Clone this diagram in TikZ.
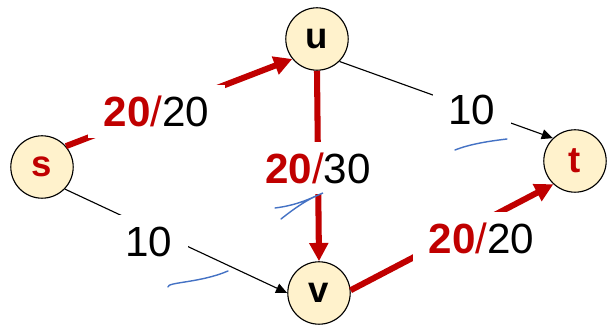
\documentclass[tikz,border=0pt]{standalone}
\usepackage{fontspec}
\setmainfont{Liberation Sans}
\usepackage{xcolor}
\usepackage{tikz}
\usetikzlibrary{arrows.meta, positioning}

\definecolor{flowred}{HTML}{C00000}
\definecolor{nodefill}{HTML}{FFF2CC}
\definecolor{penblue}{HTML}{4472C4}

\newcommand{\flowlbl}[2]{{\color{flowred}\bfseries #1}{\color{flowred}/}#2}

\begin{document}
\begin{tikzpicture}[
    x=0.025cm, y=-0.025cm,
    vertex/.style={circle, draw=black, line width=0.8pt, fill=nodefill, minimum size=1.56cm, inner sep=0pt, font=\fontsize{26}{30}\selectfont\bfseries},
    flow/.style={draw=flowred, line width=4.3pt, -{Triangle[length=13pt, width=13pt]}},
    capedge/.style={draw=black, line width=0.8pt, -{Triangle[length=8pt, width=7pt]}},
    lbl/.style={fill=white, font=\fontsize{30}{36}\selectfont, text height=21.5pt, text depth=0pt, inner xsep=11pt, inner ysep=8pt},
    pen/.style={draw=penblue, line width=1pt, line cap=round}
]
\useasboundingbox (0,0) rectangle (608,326);

% Nodes
\node[vertex, text=flowred] (s) at (42,167) {s};
\node[vertex] (u) at (317,39) {u};
\node[vertex] (v) at (319,293) {v};
\node[vertex, text=flowred] (t) at (575,161) {t};

% Arrows
\draw[flow] (s.41) -- node[lbl, pos=0.40] {\flowlbl{20}{20}} (u.219);
\draw[flow] (u.south) -- node[lbl, pos=0.51] {\flowlbl{20}{30}} (v.north);
\draw[flow] (v.5) -- node[lbl, pos=0.645, yshift=-0.41cm] {\flowlbl{20}{20}} (t.227);
\draw[capedge] (u.315) -- node[lbl, pos=0.62] {10} (t.134);
\draw[capedge] (s.316) -- node[lbl, pos=0.377, yshift=-0.33cm] {10} (v.west);

% pen marks
\draw[pen] (168,287) .. controls (167,282) and (200,283) .. (228,271);
\draw[pen] (275,208) .. controls (300,205) and (315,196) .. (323,193) .. controls (305,200) and (290,212) .. (281,219);
\draw[pen] (455,150) .. controls (470,144) and (490,141) .. (507,139);

\end{tikzpicture}
\end{document}
